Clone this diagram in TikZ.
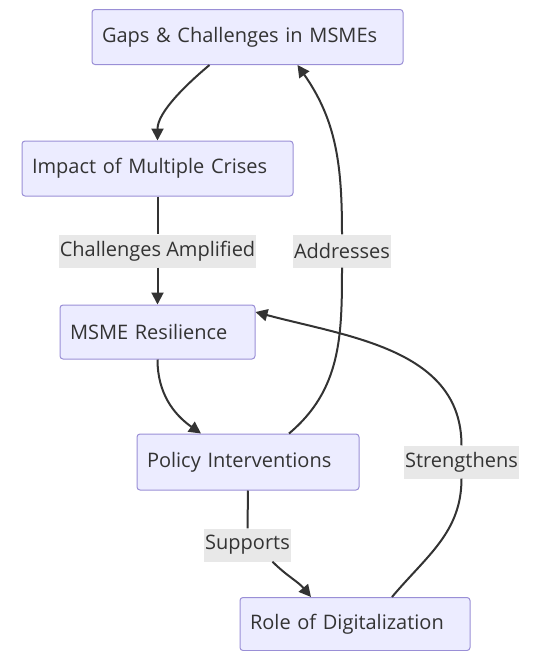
\documentclass[tikz,border=0pt]{standalone}
\usepackage{fontspec}
\setmainfont{Open Sans}
\usetikzlibrary{arrows.meta}
\definecolor{boxfill}{HTML}{ECECFF}
\definecolor{boxline}{HTML}{9A8FD6}
\definecolor{labfill}{HTML}{E8E8E8}
\definecolor{ink}{HTML}{333333}
\tikzset{
  box/.style={draw=boxline, fill=boxfill, line width=1pt, rounded corners=3pt,
    inner xsep=10pt, minimum height=55pt, align=left, text=ink,
    font=\fontsize{20}{24}\selectfont},
  lab/.style={fill=labfill, inner xsep=1pt, inner ysep=0pt, minimum height=33pt,
    text=ink, font=\fontsize{20}{24}\selectfont},
  link/.style={draw=ink, line width=2pt},
  arr/.style={link, -{Triangle[length=12pt,width=12pt]}}
}
\begin{document}
\begin{tikzpicture}[x=1pt, y=-1pt]
  \useasboundingbox (0,0) rectangle (535,651);
  % Boxes
  \node[box, text width=291pt] (gaps) at (247.5,37) {Gaps \& Challenges in MSMEs};
  \node[box, text width=251pt] (impact) at (157.5,168.5) {Impact of Multiple Crises};
  \node[box, text width=175pt, minimum height=54pt] (resil) at (157.5,332) {MSME Resilience};
  \node[box, text width=202pt, minimum height=56pt] (policy) at (248,462) {Policy Interventions};
  \node[box, text width=210pt, minimum height=53pt] (digital) at (355,624) {Role of Digitalization};

  % Edge labels
  \node[lab] (amplified) at (157.5,251) {Challenges Amplified};
  \node[lab] (addresses) at (342,251) {Addresses};
  \node[lab] (strengthens) at (461.5,462) {Strengthens};
  \node[lab] (supports) at (247.5,545) {Supports};

  % Edges
  \draw[arr] ([xshift=-38pt]gaps.south) to[out=-140, in=90, looseness=0.8] (impact.north);
  \draw[link] (impact.south) -- (amplified.north);
  \draw[arr] (amplified.south) -- (resil.north);
  \draw[arr] (resil.south) to[out=-90, in=145] ([xshift=-47pt]policy.north);
  \draw[link] ([xshift=41pt]policy.north) to[out=40, in=-90] (addresses.south);
  \draw[arr] (addresses.north) to[out=90, in=-55] ([xshift=50pt]gaps.south);
  \draw[link] (policy.south) -- (supports.north);
  \draw[arr] ([xshift=25pt]supports.south) to[out=-45, in=130] ([xshift=-44pt]digital.north);
  \draw[link] ([xshift=37pt]digital.north) to[out=50, in=-90] (strengthens.south);
  \draw[arr] (strengthens.north) to[out=90, in=-15] ([yshift=20pt]resil.east);
\end{tikzpicture}
\end{document}
